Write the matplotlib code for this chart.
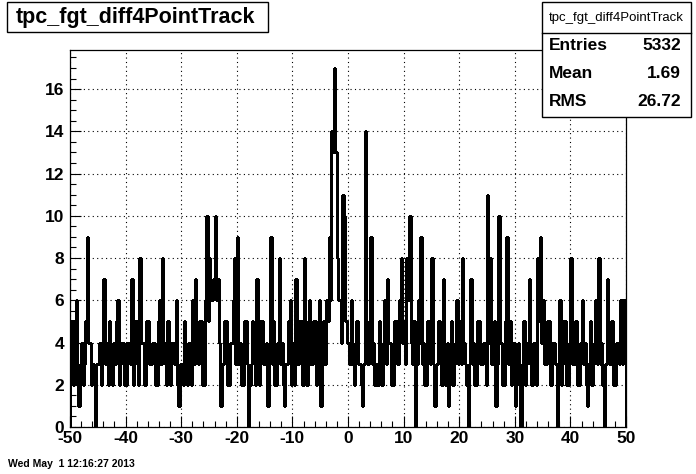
import numpy as np
import matplotlib
matplotlib.use("Agg")
import matplotlib.pyplot as plt
from matplotlib.patches import Rectangle
from matplotlib.ticker import MultipleLocator

plt.rcParams["font.family"] = ["Liberation Sans", "DejaVu Sans"]
plt.rcParams["axes.unicode_minus"] = False

# bin contents, 0.25 wide bins in 5-unit chunks
counts_m50 = [3, 5, 2, 5, 6, 2, 1, 3, 4, 2, 3, 5, 9, 4, 4, 2, 3, 2, 0, 3]
counts_m45 = [3, 4, 2, 3, 7, 3, 4, 2, 5, 3, 2, 4, 3, 5, 6, 2, 3, 4, 4, 2]
counts_m40 = [2, 4, 4, 3, 7, 2, 3, 5, 5, 2, 8, 4, 4, 2, 2, 5, 5, 3, 3, 4]
counts_m35 = [4, 2, 2, 5, 6, 3, 8, 4, 3, 2, 5, 3, 2, 4, 4, 3, 6, 2, 1, 3]
counts_m30 = [3, 2, 5, 3, 2, 4, 4, 2, 6, 3, 7, 4, 3, 5, 5, 2, 2, 6, 10, 5]
counts_m25 = [8, 6, 6, 7, 10, 6, 7, 4, 1, 3, 3, 5, 5, 2, 2, 4, 4, 6, 8, 3]
counts_m20 = [9, 3, 4, 2, 2, 5, 5, 3, 0, 2, 3, 5, 4, 2, 7, 3, 2, 5, 5, 3]
counts_m15 = [3, 4, 1, 3, 9, 3, 5, 2, 2, 4, 8, 3, 4, 2, 1, 3, 3, 5, 6, 2]
counts_m10 = [4, 2, 7, 3, 3, 5, 5, 2, 8, 4, 2, 5, 6, 3, 3, 5, 5, 2, 4, 6]
counts_m05 = [1, 4, 5, 3, 6, 5, 9, 6, 14, 13, 17, 13, 8, 6, 6, 4, 11, 10, 5, 4]
counts_p00 = [4, 3, 6, 3, 2, 4, 5, 3, 3, 2, 1, 3, 14, 4, 3, 5, 9, 3, 4, 2]
counts_p05 = [3, 2, 5, 3, 2, 4, 6, 3, 7, 4, 4, 2, 2, 5, 5, 3, 3, 6, 8, 4]
counts_p10 = [5, 3, 8, 6, 10, 4, 3, 5, 0, 3, 6, 4, 9, 3, 4, 2, 2, 5, 5, 3]
counts_p15 = [8, 3, 1, 3, 3, 5, 4, 2, 7, 3, 2, 4, 1, 3, 5, 2, 3, 4, 6, 3]
counts_p20 = [5, 3, 8, 4, 3, 2, 0, 3, 7, 3, 4, 2, 2, 5, 5, 3, 3, 4, 4, 2]
counts_p25 = [11, 4, 8, 3, 3, 5, 1, 3, 10, 4, 4, 2, 2, 5, 9, 3, 5, 2, 3, 4]
counts_p30 = [1, 3, 4, 2, 0, 3, 5, 2, 3, 4, 7, 3, 2, 4, 4, 2, 8, 5, 9, 4]
counts_p35 = [6, 3, 3, 5, 5, 2, 2, 4, 4, 3, 0, 3, 6, 2, 3, 5, 5, 2, 2, 4]
counts_p40 = [8, 3, 3, 5, 5, 2, 2, 4, 6, 3, 4, 2, 1, 3, 5, 2, 3, 4, 6, 3]
counts_p45 = [8, 3, 4, 2, 0, 3, 7, 4, 3, 5, 5, 2, 2, 4, 4, 3, 6, 3, 6, 5]

X_MIN, X_MAX = -50, 50
HIST_NAME = "tpc_fgt_diff4PointTrack"
STATS = [("Entries", "5332"), ("Mean", "1.69"), ("RMS", "26.72")]
DATE = "Wed May  1 12:16:27 2013"

counts = np.array(
    counts_m50 + counts_m45 + counts_m40 + counts_m35 + counts_m30
    + counts_m25 + counts_m20 + counts_m15 + counts_m10 + counts_m05
    + counts_p00 + counts_p05 + counts_p10 + counts_p15 + counts_p20
    + counts_p25 + counts_p30 + counts_p35 + counts_p40 + counts_p45
)
edges = np.linspace(X_MIN, X_MAX, len(counts) + 1)

W, H = 696, 474
fig = plt.figure(figsize=(W / 100, H / 100), dpi=100, facecolor="white")
ax = fig.add_axes([70 / W, 1 - 427 / H, 556 / W, 377 / H])

# ROOT draws without anti-aliasing, so keep the outline crisp
ax.stairs(counts, edges, color="black", lw=1.0, baseline=0,
          antialiased=False)

ax.set_xlim(X_MIN, X_MAX)
ax.set_ylim(0, counts.max() * 1.05)
ax.xaxis.set_major_locator(MultipleLocator(10))
ax.xaxis.set_minor_locator(MultipleLocator(2))
ax.yaxis.set_major_locator(MultipleLocator(2))
ax.yaxis.set_minor_locator(MultipleLocator(0.5))
ax.grid(True, which="major", ls=(0, (1, 3)), color="black", lw=0.8)
ax.tick_params(which="both", direction="in", top=False, right=False,
               labelsize=12.5, width=0.8)
ax.tick_params(which="major", length=8)
ax.tick_params(which="minor", length=4)
for lab in ax.get_xticklabels() + ax.get_yticklabels():
    lab.set_fontweight("bold")
ax.tick_params(axis="x", pad=3)
ax.tick_params(axis="y", pad=4)
for s in ax.spines.values():
    s.set_linewidth(0.9)

# title box, top left
fig.text(136 / W, 1 - 17 / H, HIST_NAME, ha="center", va="center",
         fontsize=15.5, fontweight="bold")
fig.add_artist(Rectangle((7 / W, 1 - 32 / H), 261 / W, 30 / H,
                         transform=fig.transFigure, fill=False,
                         ec="black", lw=1.0))

# stats box, top right
bx0, bx1, by0, by1 = 542, 691, 2, 117
fig.add_artist(Rectangle((bx0 / W, 1 - by1 / H), (bx1 - bx0) / W,
                         (by1 - by0) / H, transform=fig.transFigure,
                         fc="white", ec="black", lw=1.0, zorder=5))
fig.add_artist(plt.Line2D([bx0 / W, bx1 / W], [1 - 33 / H, 1 - 33 / H],
                          transform=fig.transFigure, color="black",
                          lw=1.0, zorder=6))
fig.text((bx0 + bx1) / 2 / W, 1 - 18 / H, HIST_NAME, ha="center",
         va="center", fontsize=9.5, zorder=7)
for k, (name, val) in enumerate(STATS):
    y = 1 - (45 + 28 * k) / H
    fig.text(549 / W, y, name, ha="left", va="center", fontsize=12.5,
             fontweight="bold", zorder=7)
    fig.text(681 / W, y, val, ha="right", va="center", fontsize=12.5,
             fontweight="bold", zorder=7)

fig.text(8 / W, 1 - 464 / H, DATE, ha="left", va="center", fontsize=7.5,
         fontweight="bold")

fig.savefig("out.png", dpi=100, facecolor="white")
